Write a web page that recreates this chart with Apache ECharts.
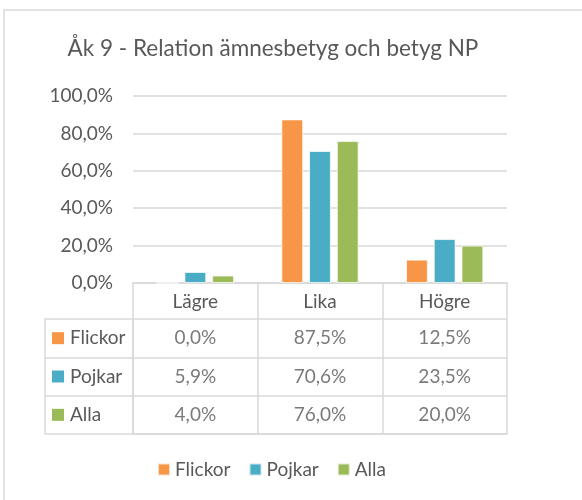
<!DOCTYPE html>
<html>
<head>
<meta charset="utf-8">
<script src="https://cdn.jsdelivr.net/npm/echarts@6/dist/echarts.min.js"></script>
<style>
  html, body { margin: 0; padding: 0; background: #fff; }
  #chart { width: 582px; height: 500px; }
</style>
</head>
<body>
<div id="chart"></div>
<script>
const categories = ['Lägre', 'Lika', 'Högre']
const seriesNames = ['Flickor', 'Pojkar', 'Alla']
const flickor = [0.0, 87.5, 12.5]
const pojkar = [5.9, 70.6, 23.5]
const alla = [4.0, 76.0, 20.0]
const yTicks = [0, 20, 40, 60, 80, 100]

const values = [flickor, pojkar, alla]
const colors = ['#F79646', '#4BACC6', '#9BBB59']
const gridColor = '#D9D9D9'
const textColor = '#595959'
const font = 'Lato'

function pct(v) {
  return v.toFixed(1).replace('.', ',') + '%'
}

const rowRich = { t: { color: textColor, fontSize: 19, fontFamily: font, padding: [0, 0, 0, 6] } }
colors.forEach((c, i) => {
  rowRich['s' + i] = { backgroundColor: c, width: 12, height: 12 }
})

const barSeries = seriesNames.map((name, i) => ({
  name,
  type: 'bar',
  xAxisIndex: 0,
  yAxisIndex: 0,
  data: values[i],
  barGap: '27%',
  barCategoryGap: '38%',
  itemStyle: { color: colors[i], borderColor: 'rgba(255,255,255,0.7)', borderWidth: 1 },
  silent: true,
}))

const tableSeries = seriesNames.map((name, i) => ({
  name: 'table-' + name,
  type: 'scatter',
  xAxisIndex: 1,
  yAxisIndex: 1,
  symbolSize: 1,
  itemStyle: { color: 'rgba(0,0,0,0)' },
  silent: true,
  data: values[i].map((v, j) => ({ value: [categories[j], name], raw: v })),
  label: {
    show: true,
    position: 'inside',
    color: textColor,
    fontSize: 19,
    fontFamily: font,
    formatter: (p) => pct(p.data.raw),
  },
}))

const chart = echarts.init(document.getElementById('chart'), null, { renderer: 'canvas' })
chart.setOption({
  animation: false,
  textStyle: { fontFamily: font },
  title: {
    text: 'Åk 9 - Relation ämnesbetyg och betyg NP',
    left: 268,
    top: 32,
    textAlign: 'center',
    textStyle: { color: textColor, fontSize: 22.5, fontWeight: 'normal', fontFamily: font },
  },
  legend: {
    data: seriesNames,
    left: 157,
    top: 460,
    padding: 0,
    icon: 'rect',
    itemWidth: 12,
    itemHeight: 12,
    itemGap: 18,
    textStyle: { color: textColor, fontSize: 19, fontFamily: font },
    selectedMode: false,
  },
  graphic: [{
    type: 'rect',
    shape: { x: 4, y: 10, width: 700, height: 700 },
    style: { fill: 'none', stroke: gridColor, lineWidth: 1.5 },
    silent: true,
  }],
  grid: [
    { left: 133, right: 75, top: 96, height: 187 },
    { left: 133, right: 75, top: 319, height: 115 },
  ],
  xAxis: [
    {
      type: 'category',
      gridIndex: 0,
      data: categories,
      axisLine: { lineStyle: { color: gridColor, width: 1.5 } },
      axisTick: { show: true, length: 36, lineStyle: { color: gridColor, width: 1.5 } },
      axisLabel: { color: textColor, fontSize: 19, fontFamily: font, margin: 9 },
    },
    {
      type: 'category',
      gridIndex: 1,
      data: categories,
      axisLine: { show: true, lineStyle: { color: gridColor, width: 1.5 } },
      axisTick: { show: false },
      axisLabel: { show: false },
      splitLine: { show: true, lineStyle: { color: gridColor, width: 1.5 } },
    },
  ],
  yAxis: [
    {
      type: 'value',
      gridIndex: 0,
      min: yTicks[0],
      max: yTicks[yTicks.length - 1],
      interval: yTicks[1] - yTicks[0],
      axisLine: { show: false },
      axisTick: { show: false },
      axisLabel: { color: textColor, fontSize: 19, fontFamily: font, margin: 20, formatter: (v) => pct(v) },
      splitLine: { lineStyle: { color: gridColor, width: 1.5 } },
    },
    {
      type: 'category',
      gridIndex: 1,
      data: seriesNames,
      inverse: true,
      axisLine: { show: true, lineStyle: { color: gridColor, width: 1.5 } },
      axisTick: { show: true, length: 88, lineStyle: { color: gridColor, width: 1.5 } },
      axisLabel: {
        align: 'left',
        margin: 81,
        formatter: (v) => '{s' + seriesNames.indexOf(v) + '|}{t|' + v + '}',
        rich: rowRich,
      },
      splitLine: { show: true, lineStyle: { color: gridColor, width: 1.5 } },
    },
    {
      type: 'category',
      gridIndex: 1,
      data: seriesNames,
      inverse: true,
      position: 'left',
      offset: 88,
      axisLine: { show: true, lineStyle: { color: gridColor, width: 1.5 } },
      axisTick: { show: false },
      axisLabel: { show: false },
    },
  ],
  series: [...barSeries, ...tableSeries],
})
</script>
</body>
</html>
